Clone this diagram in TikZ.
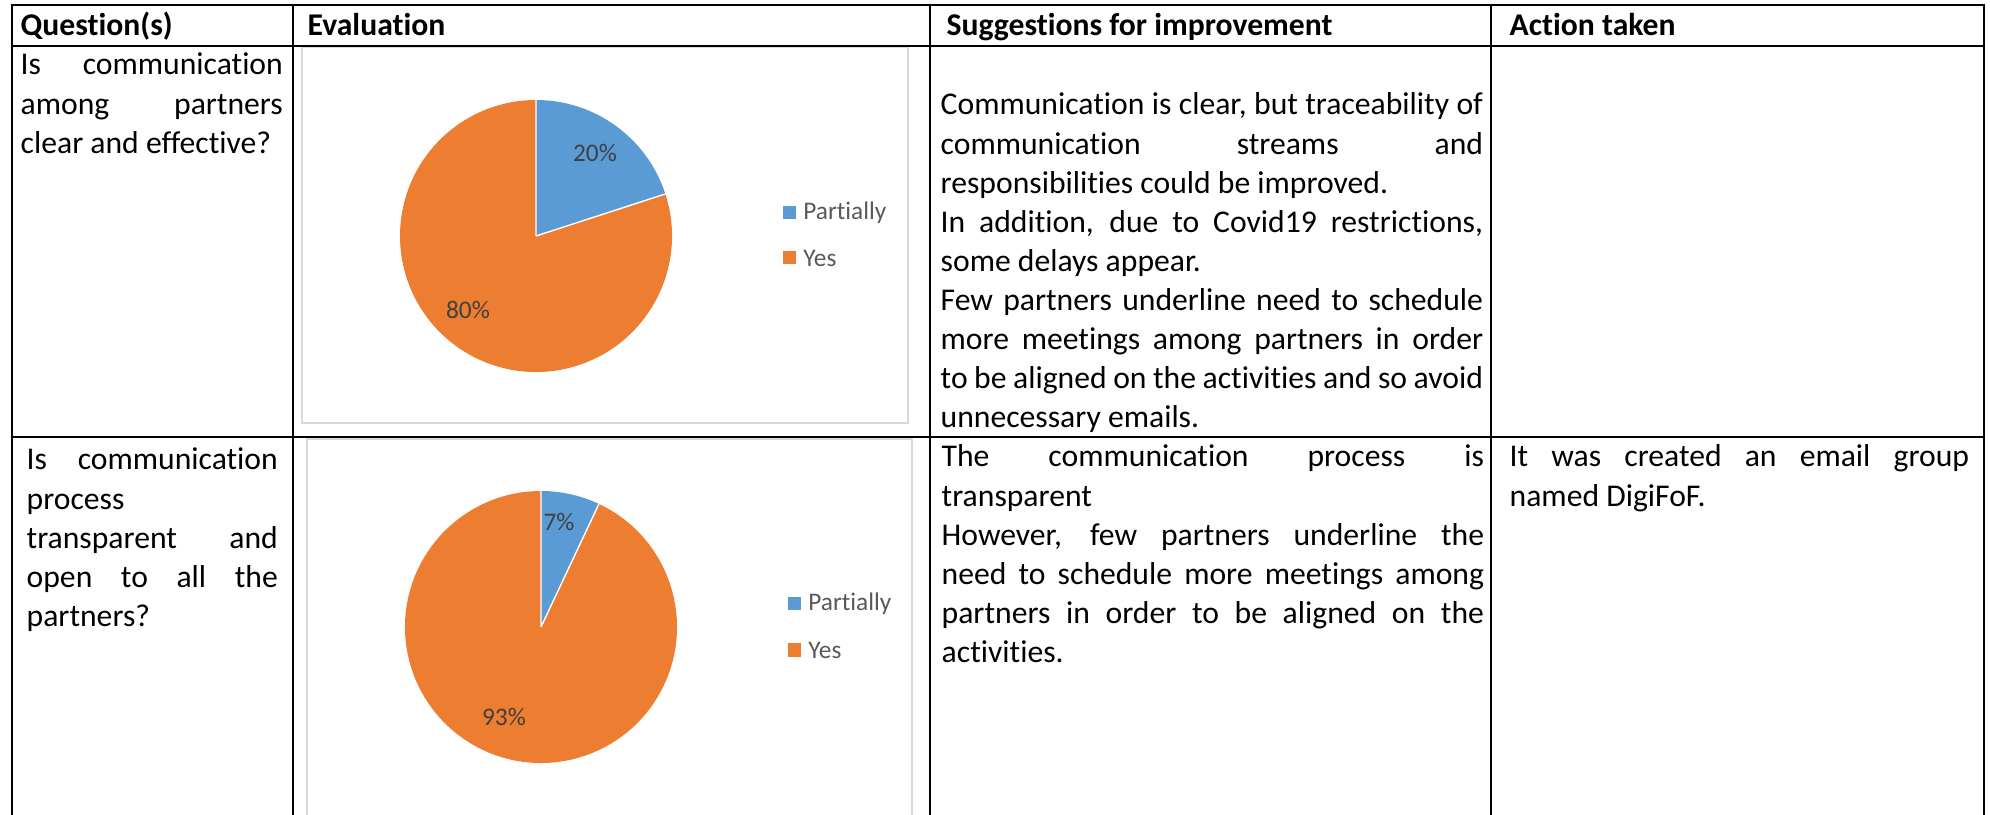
\documentclass[tikz,border=0pt]{standalone}
\usepackage{fontspec}
\setmainfont{Carlito}[Ligatures=NoCommon]
\usetikzlibrary{positioning}
\definecolor{pieblue}{HTML}{5B9BD5}
\definecolor{pieorange}{HTML}{ED7D31}
\definecolor{chartframe}{HTML}{D9D9D9}
\definecolor{labelgray}{HTML}{404040}
\definecolor{leggray}{HTML}{595959}
\hyphenpenalty=10000
\tolerance=10000

\begin{document}
\begin{tikzpicture}[
    x=0.01cm, y=0.01cm,
    grid/.style={line width=0.75pt, black},
    chartbox/.style={draw=chartframe, line width=0.6pt},
    head/.style={anchor=base west, inner sep=0pt, font=\bfseries\fontsize{9}{11.1}\selectfont},
    cell/.style={anchor=base west, inner sep=0pt, align=justify, font=\fontsize{9}{11.1}\selectfont},
    pct/.style={inner sep=0pt, text=labelgray, font=\fontsize{7.2}{8.6}\selectfont},
    legbox/.style={minimum size=0.13cm, inner sep=0pt},
    legtext/.style={inner sep=0pt, text=leggray, font=\fontsize{7.2}{8.6}\selectfont}
]
    \useasboundingbox (0,0) rectangle (1990,815);

    % Chart frames
    \draw[chartbox] (302,392) rectangle (908,768);
    \draw[chartbox] (307,0) -- (307,376) -- (912,376) -- (912,0);

    % Table rules
    \draw[grid] (12,0) -- (12,810) -- (1984,810) -- (1984,0);
    \draw[grid] (12,769) -- (1984,769);
    \draw[grid] (12,378) -- (1984,378);
    \foreach \x in {293,930,1491}
        \draw[grid] (\x,0) -- (\x,810);

    % Header row
    \node[head] (hquest) at (20,779) {Question(s)};
    \node[head] (heval) at (307,779) {Evaluation};
    \node[head] (hsugg) at (946,779) {Suggestions for improvement};
    \node[head] (haction) at (1509,779) {Action taken};

    % Questions
    \node[cell, text width=2.62cm] (qclear) at (20,740)
        {Is communication\linebreak among partners\linebreak clear and effective?};
    \node[cell, text width=2.51cm] (qopen) at (26,345)
        {Is communication\linebreak process\linebreak transparent and\linebreak open to all the\linebreak partners?};

    % Suggestions
    \node[cell, text width=5.42cm] (sclear) at (940,700)
        {Communication is clear, but traceability of\linebreak
         communication streams and\linebreak
         responsibilities could be improved.\\
         In addition, due to Covid19 restrictions,\linebreak
         some delays appear.\\
         Few partners underline need to schedule\linebreak
         more meetings among partners in order\linebreak
         to be aligned on the activities and so avoid\linebreak
         unnecessary emails.};
    \node[cell, text width=5.42cm] (sopen) at (941,348)
        {The communication process is\linebreak
         transparent\\
         However, few partners underline the\linebreak
         need to schedule more meetings among\linebreak
         partners in order to be aligned on the\linebreak
         activities.};

    % Action taken
    \node[cell, text width=4.59cm] (aopen) at (1509,348)
        {It was created an email group\linebreak named DigiFoF.};

    % Pie chart, first question
    \coordinate (pieA) at (536,579);
    \fill[pieblue] (pieA) -- ++(90:136) arc[start angle=90, end angle=18, radius=136] -- cycle;
    \fill[pieorange] (pieA) -- ++(18:136) arc[start angle=18, end angle=-270, radius=136] -- cycle;
    \draw[white, line width=0.4pt] (pieA) -- ++(90:136) (pieA) -- ++(18:136);
    \node[pct] (pctApart) at (595,662) {20\%};
    \node[pct] (pctAyes) at (468,505) {80\%};
    \node[legbox, fill=pieblue] (legApart) at (789,602) {};
    \node[legtext, right=0.065cm of legApart] {Partially};
    \node[legbox, fill=pieorange] (legAyes) at (789,557) {};
    \node[legtext, right=0.065cm of legAyes] {Yes};

    % Pie chart, second question
    \coordinate (pieB) at (541,188);
    \fill[pieblue] (pieB) -- ++(90:136) arc[start angle=90, end angle=64.8, radius=136] -- cycle;
    \fill[pieorange] (pieB) -- ++(64.8:136) arc[start angle=64.8, end angle=-270, radius=136] -- cycle;
    \draw[white, line width=0.4pt] (pieB) -- ++(90:136) (pieB) -- ++(64.8:136);
    \node[pct] (pctBpart) at (559,293) {7\%};
    \node[pct] (pctByes) at (504,98) {93\%};
    \node[legbox, fill=pieblue] (legBpart) at (794,211) {};
    \node[legtext, right=0.065cm of legBpart] {Partially};
    \node[legbox, fill=pieorange] (legByes) at (794,165) {};
    \node[legtext, right=0.065cm of legByes] {Yes};
\end{tikzpicture}
\end{document}
